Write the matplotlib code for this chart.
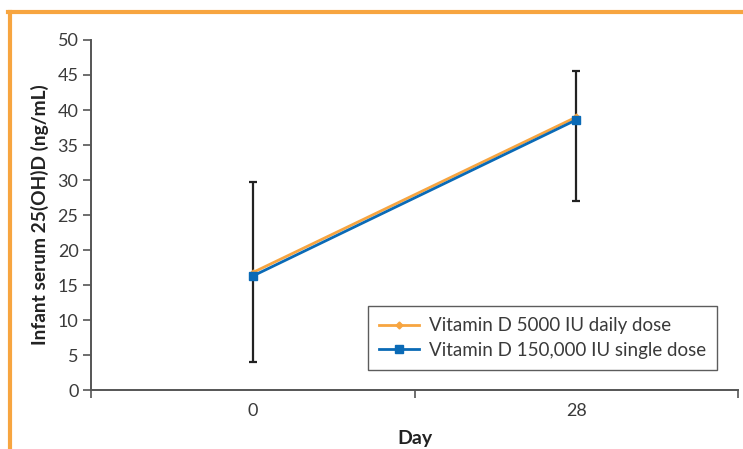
import matplotlib
matplotlib.use("Agg")
import matplotlib.pyplot as plt
from matplotlib.lines import Line2D

# ── Data ─────────────────────────────────────────────────────────────────────
DAYS = ["0", "28"]
DAILY_MEAN = [16.8, 39.0]      # Vitamin D 5000 IU daily dose
SINGLE_MEAN = [16.3, 38.6]     # Vitamin D 150,000 IU single dose
ERR_LOW = [4.0, 27.0]
ERR_HIGH = [29.7, 45.5]
Y_TICKS = list(range(0, 55, 5))

ORANGE = "#F7A540"
BLUE = "#0A6AB6"
GREY = "#555555"
TEXT = "#3a3a3a"

plt.rcParams["font.family"] = ["Lato", "DejaVu Sans"]

fig = plt.figure(figsize=(7.43, 4.49), dpi=100)
ax = fig.add_axes([0.1225, 0.131, 0.871, 0.78])

x = list(range(len(DAYS)))
ax.errorbar(x, SINGLE_MEAN,
            yerr=[[m - lo for m, lo in zip(SINGLE_MEAN, ERR_LOW)],
                  [hi - m for m, hi in zip(SINGLE_MEAN, ERR_HIGH)]],
            fmt="none", ecolor="#222222", elinewidth=1.6, capsize=3, capthick=1.6,
            zorder=2)
ax.plot(x, DAILY_MEAN, color=ORANGE, linewidth=2, marker="D", markersize=3.5,
        label="Vitamin D 5000 IU daily dose", zorder=3)
ax.plot(x, SINGLE_MEAN, color=BLUE, linewidth=2, marker="s", markersize=6,
        label="Vitamin D 150,000 IU single dose", zorder=4)

ax.set_xlim(-0.5, 1.5)
ax.set_ylim(0, 50)
ax.set_xticks(x)
ax.set_xticklabels(DAYS)
ax.set_xticks([-0.5, 0.5, 1.5], minor=True)
ax.tick_params(axis="x", which="major", length=0, pad=9, labelsize=13,
               labelcolor=TEXT)
ax.tick_params(axis="x", which="minor", length=6, width=1.2, color=GREY,
               direction="out")
ax.set_yticks(Y_TICKS)
ax.tick_params(axis="y", length=6, width=1.2, color=GREY, labelsize=13,
               labelcolor=TEXT, pad=3)

for side in ("top", "right"):
    ax.spines[side].set_visible(False)
for side in ("left", "bottom"):
    ax.spines[side].set_color(GREY)
    ax.spines[side].set_linewidth(1.4)

ax.set_xlabel("Day", fontsize=14, fontweight="bold", color="#222222",
              labelpad=8)
ax.set_ylabel("Infant serum 25(OH)D (ng/mL)", fontsize=13.8,
              fontweight="bold", color="#222222", labelpad=6)

leg = ax.legend(loc="lower right", bbox_to_anchor=(0.968, 0.057),
                prop={"size": 13.5},
                frameon=True, fancybox=False, edgecolor="#333333",
                handlelength=2.1, handletextpad=0.55, borderpad=0.6,
                labelspacing=0.4, borderaxespad=0, labelcolor=TEXT)
leg.get_frame().set_linewidth(1.0)

# orange frame around the figure (top and left edges)
fig.add_artist(Line2D([0.011, 1.0], [0.974, 0.974], transform=fig.transFigure,
                      color=ORANGE, linewidth=3))
fig.add_artist(Line2D([0.013, 0.013], [0.0, 0.974], transform=fig.transFigure,
                      color=ORANGE, linewidth=3))

fig.savefig("out.png", dpi=100)
